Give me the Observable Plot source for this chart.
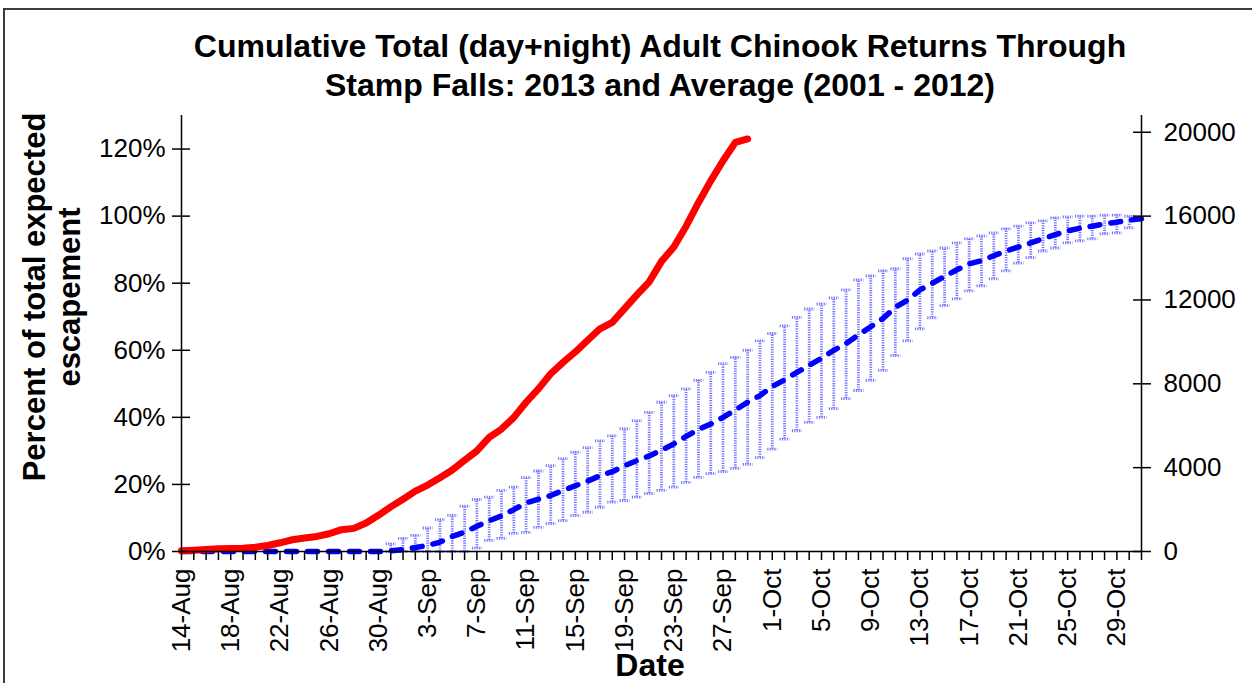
<!DOCTYPE html>
<html>
<head>
<meta charset="utf-8">
<script src="https://cdn.jsdelivr.net/npm/d3@7"></script>
<script src="https://cdn.jsdelivr.net/npm/@observablehq/plot@0.6"></script>
<style>
  html, body { margin: 0; padding: 0; background: #fff; }
  #wrap { position: relative; width: 1252px; height: 683px; overflow: hidden; font-family: "Liberation Sans", Arial, sans-serif; color: #000; }
  #border { position: absolute; left: 3px; top: 8px; width: 1300px; height: 720px; border-top: 2px solid #3c3c3c; border-left: 2px solid #3c3c3c; box-sizing: border-box; }
  #title { position: absolute; left: 0; top: 27px; width: 1320px; text-align: center; font-weight: bold; font-size: 32px; line-height: 39px; white-space: nowrap; }
  #ylab { position: absolute; left: 52px; top: 297px; transform: translate(-50%, -50%) rotate(-90deg); text-align: center; font-weight: bold; font-size: 31px; line-height: 35px; white-space: nowrap; }
  #xlab { position: absolute; left: 0; width: 1300px; top: 646px; text-align: center; font-weight: bold; font-size: 32px; line-height: 38px; }
  #chart { position: absolute; left: 0; top: 0; }
</style>
</head>
<body>
<div id="wrap">
  <div id="border"></div>
  <div id="chart"></div>
  <div id="title">Cumulative Total (day+night) Adult Chinook Returns Through<br>Stamp Falls: 2013 and Average (2001 - 2012)</div>
  <div id="ylab">Percent of total expected<br>escapement</div>
  <div id="xlab">Date</div>
</div>
<script>
// ---- Data (percent of total expected escapement) ----
const firstDay = "2013-08-14";   // first category
const lastDay  = "2013-10-31";   // last category

// 2013 cumulative run, one value per day from 14-Aug
const run2013 = [0.2, 0.4, 0.6, 0.8, 0.9, 1.0, 1.3, 1.8, 2.6, 3.5,
  4.0, 4.5, 5.3, 6.5, 6.9, 8.5, 10.8, 13.3, 15.6, 18.0,
  19.8, 22.0, 24.3, 27.2, 30.0, 34.0, 36.5, 40.0, 44.5, 48.5,
  53.0, 56.4, 59.5, 63.0, 66.4, 68.3, 72.4, 76.5, 80.4, 86.5,
  90.8, 97.0, 104.0, 110.5, 116.5, 122.0, 123.0];

// 2001-2012 average, one value per day from 14-Aug
const avgMean = [0,0,0,0,0,0,0,0,0,0, 0,0,0,0,0,0,0, 0.2, 0.6, 1.2,
  1.8, 2.8, 4.5, 5.8, 7.5, 9.2, 10.6, 12.5, 14.5, 15.6,
  16.7, 18.2, 19.6, 21.0, 22.6, 23.8, 25.6, 27.1, 28.5, 30.2,
  32.1, 34.3, 36.4, 38.0, 40.0, 42.2, 44.5, 46.5, 49.2, 51.2,
  53.4, 55.5, 57.6, 60.0, 62.0, 64.6, 67.0, 69.5, 72.8, 75.0,
  78.0, 80.0, 82.0, 84.0, 85.8, 86.7, 88.2, 89.6, 90.8, 92.0,
  93.3, 94.5, 95.6, 96.4, 97.0, 97.7, 98.2, 98.8, 99.2];

// error bars, one pair per day starting at 31-Aug (index 17)
const barStartIndex = 17;
const avgHigh = [2.3, 3.9, 4.8, 7.0, 9.5, 10.8, 13.5, 15.5, 16.2, 18.2,
  19.2, 22.0, 24.0, 25.6, 27.7, 29.6, 31.0, 33.0, 34.5, 36.6,
  39.0, 41.5, 44.5, 46.5, 48.5, 51.0, 53.4, 56.0, 57.9, 60.0,
  62.8, 65.0, 67.3, 69.8, 72.3, 73.8, 75.6, 78.0, 81.0, 82.2,
  83.7, 84.3, 87.3, 88.7, 89.6, 90.5, 92.0, 93.2, 94.1, 95.0,
  96.2, 97.0, 98.0, 98.6, 99.5, 99.8, 100, 100, 100.3, 100.3, 100];
const avgLow = [0, 0, 0, 0, 0, 0, 0, 1.0, 3.3, 3.9,
  5.4, 5.7, 7.2, 8.3, 9.2, 10.7, 11.7, 13.2, 14.7, 15.2,
  16.2, 17.3, 18.2, 19.2, 20.6, 22.1, 23.2, 23.8, 24.8, 26.0,
  28.0, 30.5, 33.5, 36.0, 38.5, 40.0, 42.6, 45.6, 48.0, 51.0,
  54.0, 58.4, 62.8, 66.4, 69.7, 73.3, 75.3, 77.7, 79.2, 81.3,
  83.7, 86.0, 87.6, 89.6, 90.5, 92.0, 92.6, 93.2, 94.7, 95.0, 96.5];

const leftTicks = [0, 20, 40, 60, 80, 100, 120];           // percent
const rightTickFish = [0, 4000, 8000, 12000, 16000, 20000]; // fish
const fishAtHundredPct = 16000;
const yMaxPct = 130;
const labelEvery = 4;

// ---- Build tables ----
const start = new Date(firstDay + "T00:00:00Z");
const end = new Date(lastDay + "T00:00:00Z");
const dayAt = i => d3.utcDay.offset(start, i);
const allDays = d3.utcDay.range(start, d3.utcDay.offset(end, 1));
const labelDays = allDays.filter((d, i) => i % labelEvery === 0);
const runRows = run2013.map((v, i) => ({date: dayAt(i), v}));
const meanRows = avgMean.map((v, i) => ({date: dayAt(i), v}));
const barRows = avgHigh.map((hi, i) => ({date: dayAt(barStartIndex + i), hi, lo: avgLow[i]}));
const pctPerFish = 100 / fishAtHundredPct;

const capSymbol = { draw(ctx) { ctx.moveTo(-5, 0); ctx.lineTo(5, 0); } };
const barColor = "#7474ff";
const barStyle = { stroke: barColor, strokeWidth: 2.8, strokeDasharray: "1.2,1.2" };

const plot = Plot.plot({
  width: 1252,
  height: 683,
  marginLeft: 181,
  marginRight: 111,
  marginTop: 115,
  marginBottom: 132,
  style: { fontFamily: "'Liberation Sans', Arial, sans-serif", fontSize: "26px", color: "#000", background: "transparent", overflow: "visible" },
  x: { type: "utc", domain: [start, end] },
  y: { domain: [0, yMaxPct] },
  marks: [
    // error bars
    Plot.ruleX(barRows, { x: "date", y1: "lo", y2: "hi", ...barStyle }),
    Plot.dot(barRows, { x: "date", y: "hi", symbol: capSymbol, fill: "none", ...barStyle }),
    Plot.dot(barRows, { x: "date", y: "lo", symbol: capSymbol, fill: "none", ...barStyle }),
    // average line
    Plot.line(meanRows, { x: "date", y: "v", stroke: "#0000ff", strokeWidth: 5.5, strokeDasharray: "10,11", strokeLinecap: "round", strokeLinejoin: "round" }),
    // 2013 line
    Plot.line(runRows, { x: "date", y: "v", stroke: "#ff0000", strokeWidth: 7, strokeLinecap: "round", strokeLinejoin: "round" }),
    // axis lines
    Plot.ruleY([0], { stroke: "#000", strokeWidth: 1.5 }),
    Plot.ruleX([start, end], { stroke: "#000", strokeWidth: 1.5 }),
    // x axis ticks (every day) and labels
    Plot.axisX({ ticks: allDays, tickSize: 9, fill: "none", stroke: "#000", strokeWidth: 1.5, label: null }),
    Plot.axisX({ ticks: labelDays, tickSize: 0, tickPadding: 17, tickRotate: -90, tickFormat: d3.utcFormat("%-d-%b"), fontSize: 26, fill: "#000", label: null }),
    // left axis
    Plot.axisY({ anchor: "left", ticks: leftTicks, tickSize: 18, dx: 9, fill: "none", stroke: "#000", strokeWidth: 1.5, label: null }),
    Plot.axisY({ anchor: "left", ticks: leftTicks, tickSize: 0, tickPadding: 16, tickFormat: d => d + "%", fontSize: 26, fill: "#000", label: null }),
    // right axis
    Plot.axisY({ anchor: "right", ticks: rightTickFish.map(f => f * pctPerFish), tickSize: 18, dx: -9, fill: "none", stroke: "#000", strokeWidth: 1.5, label: null }),
    Plot.axisY({ anchor: "right", ticks: rightTickFish.map(f => f * pctPerFish), tickSize: 0, tickPadding: 22, tickFormat: d => String(Math.round(d / pctPerFish)), fontSize: 26, fill: "#000", label: null })
  ]
});
document.getElementById("chart").appendChild(plot);
</script>
</body>
</html>
